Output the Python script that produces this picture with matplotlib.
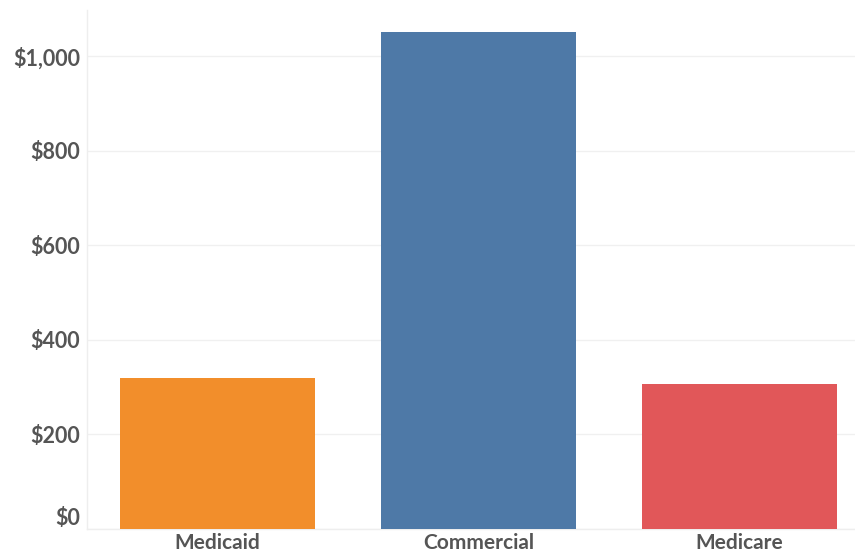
import matplotlib
matplotlib.use("Agg")
import matplotlib.pyplot as plt
from matplotlib.ticker import FuncFormatter

categories = ["Medicaid", "Commercial", "Medicare"]
values = [319, 1052, 306]
colors = ["#F28E2B", "#4E79A7", "#E15759"]
yticks = [0, 200, 400, 600, 800, 1000]

plt.rcParams['font.family'] = ['Lato', 'DejaVu Sans']

W, H = 855, 556
fig = plt.figure(figsize=(W/100, H/100), dpi=100)
left, right, top, bottom = 87, 870, 10, 529
ax = fig.add_axes([left/W, 1 - bottom/H, (right-left)/W, (bottom-top)/H])

x = list(range(len(categories)))
ax.bar(x, values, width=0.75, color=colors, zorder=3)

ax.set_xlim(-0.5, 2.5)
ax.set_ylim(-1, 1098)
ax.set_yticks(yticks)
ax.yaxis.set_major_formatter(FuncFormatter(lambda v, p: f"${v:,.0f}"))
ax.grid(axis='y', color='#f0f0f0', linewidth=1, zorder=0)
ax.set_xticks(x)
ax.set_xticklabels(categories)

for s in ['top', 'right']:
    ax.spines[s].set_visible(False)
for s in ['left', 'bottom']:
    ax.spines[s].set_color('#eeeeee')
    ax.spines[s].set_linewidth(1)

ax.tick_params(axis='y', length=0, labelsize=15.5, labelcolor='#555555', pad=5)
ax.tick_params(axis='x', length=0, labelsize=15, labelcolor='#555555', pad=3)
for lbl in ax.get_yticklabels() + ax.get_xticklabels():
    lbl.set_fontweight('bold')
ylabels = ax.get_yticklabels()
ylabels[0].set_verticalalignment('bottom')

fig.savefig("out.png", dpi=100, facecolor='white')
